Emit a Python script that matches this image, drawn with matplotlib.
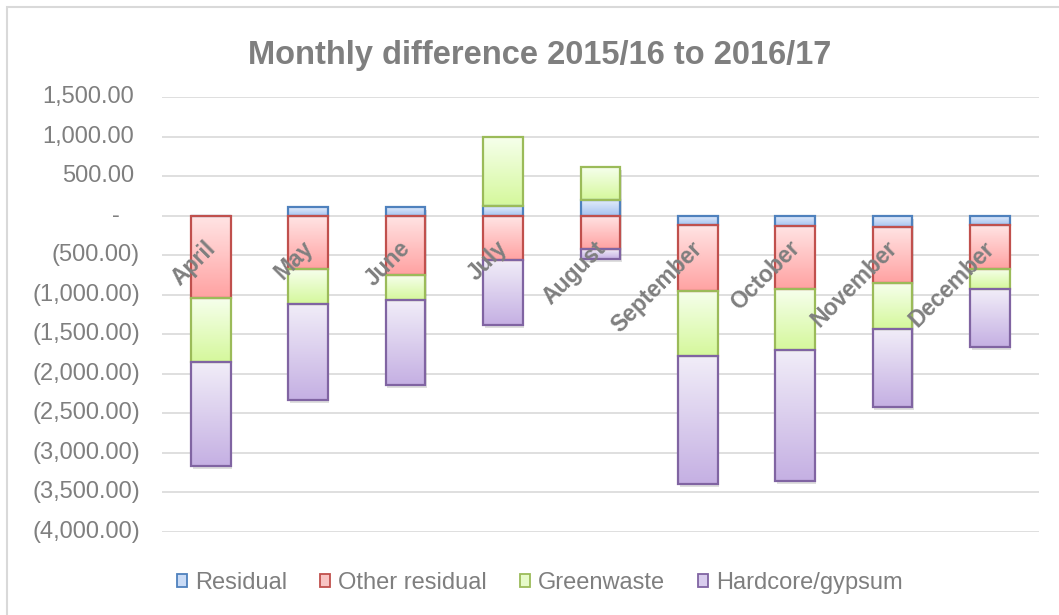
import numpy as np
import matplotlib
matplotlib.use("Agg")
import matplotlib.pyplot as plt
from matplotlib.patches import Rectangle, Patch
from matplotlib.colors import LinearSegmentedColormap
import matplotlib.transforms as mtransforms

plt.rcParams['font.family'] = ['Liberation Sans', 'DejaVu Sans']

# ---------------- data ----------------
months = ['April', 'May', 'June', 'July', 'August', 'September', 'October', 'November', 'December']
residual = [-8, 105, 114, 118, 203, -122, -131, -139, -122]
other_residual = [-1035, -671, -756, -557, -422, -832, -802, -714, -549]
greenwaste = [-810, -440, -308, 882, 409, -827, -764, -578, -262]
hardcore_gypsum = [-1313, -1227, -1076, -832, -122, -1613, -1659, -996, -734]

series_names = ['Residual', 'Other residual', 'Greenwaste', 'Hardcore/gypsum']
series_values = [residual, other_residual, greenwaste, hardcore_gypsum]

y_ticks = [1500, 1000, 500, 0, -500, -1000, -1500, -2000, -2500, -3000, -3500, -4000]
title = 'Monthly difference 2015/16 to 2016/17'

# ---------------- styles ----------------
edge_colors = ['#4F81BD', '#C0504D', '#9BBB59', '#8064A2']
top_colors = ['#E4EDFB', '#FFE4E4', '#F6FFEC', '#F1EDF8']
bottom_colors = ['#A6C3F0', '#FFA2A2', '#D5F89C', '#C5B0E3']
legend_fill = ['#C9DBF6', '#F8C4C3', '#E6FAC8', '#D9CDEE']
text_grey = '#7F7F7F'
grid_grey = '#D9D9D9'

W, H = 1059, 615
fig = plt.figure(figsize=(W / 100, H / 100), dpi=100)
ax = fig.add_axes([162.1 / W, 1 - 531.7 / H, (1038.7 - 162.1) / W, (531.7 - 97.3) / H])

x = np.arange(len(months))
bar_w = 0.405

pos_base = np.zeros(len(months))
neg_base = np.zeros(len(months))

# shadow (stack extents)
vals = np.array(series_values, dtype=float)
stack_top = np.where(vals > 0, vals, 0).sum(axis=0)
stack_bot = np.where(vals < 0, vals, 0).sum(axis=0)
shadow_tr = mtransforms.offset_copy(ax.transData, fig=fig, x=1.5, y=-3, units='dots')
sh = ax.bar(x, stack_top - stack_bot, bottom=stack_bot, width=bar_w, color='black',
            alpha=0.13, linewidth=0, zorder=1.5)
for p in sh:
    p.set_transform(shadow_tr)

for si, v in enumerate(series_values):
    v = np.array(v, dtype=float)
    bottoms = np.where(v >= 0, pos_base, neg_base)
    bars = ax.bar(x, v, bottom=bottoms, width=bar_w, facecolor='none',
                  edgecolor=edge_colors[si], linewidth=1.6, zorder=3, label=series_names[si])
    cmap = LinearSegmentedColormap.from_list('g%d' % si, [bottom_colors[si], top_colors[si]])
    grad = np.linspace(0, 1, 64).reshape(-1, 1)
    for p in bars:
        x0 = p.get_x()
        x1 = x0 + p.get_width()
        ya = p.get_y()
        yb = ya + p.get_height()
        y0, y1 = min(ya, yb), max(ya, yb)
        im = ax.imshow(grad, cmap=cmap, extent=(x0, x1, y0, y1), origin='lower',
                       aspect='auto', zorder=2.5, interpolation='bilinear')
        im.set_clip_path(p)
    pos_base = np.where(v >= 0, pos_base + v, pos_base)
    neg_base = np.where(v < 0, neg_base + v, neg_base)

ax.set_xlim(-0.5, len(months) - 0.5)
ax.set_ylim(-4000, 1500)
ax.set_yticks(y_ticks)
ax.set_yticklabels([])
ax.set_xticks([])
ax.tick_params(axis='y', length=0)
ax.yaxis.grid(True, color=grid_grey, linewidth=1.2, zorder=0)
ax.set_axisbelow(True)
for s in ax.spines.values():
    s.set_visible(False)

# y tick labels in accounting style
ytrans = mtransforms.blended_transform_factory(ax.transAxes, ax.transData)
for t in y_ticks:
    if t == 0:
        lab, off = '-', -42
    elif t > 0:
        lab, off = f'{t:,.2f}', -28
    else:
        lab, off = f'({-t:,.2f})', -22
    tr = ytrans + mtransforms.ScaledTranslation(off / 100, 0, fig.dpi_scale_trans)
    ax.text(0, t, lab, transform=tr, ha='right', va='center', fontsize=17,
            color=text_grey, clip_on=False)

# category labels (rotated, near zero line)
for i, m in enumerate(months):
    ax.text(i - 0.07, -265, m, rotation=45, rotation_mode='anchor', ha='right', va='top',
            fontsize=16.5, fontweight='bold', color=text_grey, zorder=5)

# title
fig.text(540 / W, 1 - 64 / H, title, ha='center', va='baseline', fontsize=23.5,
         fontweight='bold', color=text_grey)

# legend
handles = [Patch(facecolor=legend_fill[i], edgecolor=edge_colors[i], linewidth=1.3)
           for i in range(4)]
fig.legend(handles, series_names, loc='center', bbox_to_anchor=(540 / W, 1 - 583 / H),
           ncol=4, frameon=False, fontsize=17, handlelength=0.42, handleheight=0.42,
           handletextpad=0.34, columnspacing=1.4, labelcolor=text_grey)

# chart border
fig.patches.append(Rectangle((7 / W, -0.05), 1.0, 1 - 7 / H + 0.05, transform=fig.transFigure,
                             fill=False, edgecolor=grid_grey, linewidth=1.5))

fig.savefig('out.png', dpi=100)
